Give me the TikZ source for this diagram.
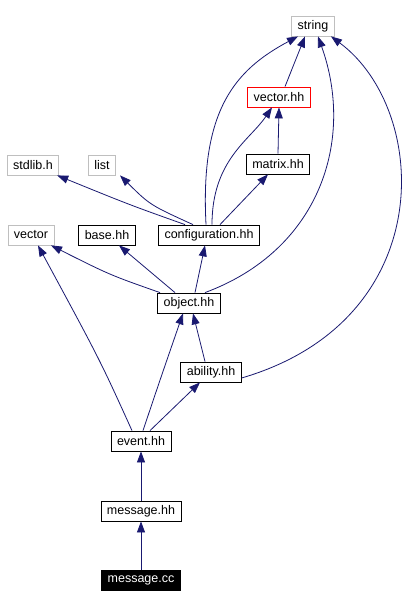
\documentclass[tikz,border=0pt]{standalone}
\usepackage{fontspec}
\setmainfont{Liberation Sans}
\usetikzlibrary{arrows.meta}
\definecolor{edgeblue}{RGB}{25,25,112}

\begin{document}
\begin{tikzpicture}[
    x=1pt, y=-1pt,
    filenode/.style={
        rectangle,
        draw=black,
        fill=white,
        line width=0.8pt,
        minimum height=20pt,
        inner xsep=6pt,
        inner ysep=0pt,
        font=\fontsize{12.5}{14}\selectfont
    },
    extnode/.style={
        filenode,
        draw=black!25
    },
    warnnode/.style={
        filenode,
        draw=red
    },
    rootnode/.style={
        filenode,
        fill=black,
        text=white
    },
    dep/.style={
        -{Triangle[length=11pt,width=8pt]},
        draw=edgeblue,
        line width=0.8pt
    }
]
    \useasboundingbox (0,0) rectangle (417,609);

    % Nodes
    \node[extnode]  (string)   at (313,26)  {string};
    \node[warnnode] (vectorhh) at (279,97)  {vector.hh};
    \node[filenode] (matrix)   at (278,164) {matrix.hh};
    \node[extnode]  (stdlib)   at (33,165)  {stdlib.h};
    \node[extnode]  (list)     at (102,165) {list};
    \node[extnode]  (vector)   at (31,235)  {vector};
    \node[filenode] (base)     at (107,235) {base.hh};
    \node[filenode] (config)   at (209,235) {configuration.hh};
    \node[filenode] (object)   at (189,303) {object.hh};
    \node[filenode] (ability)  at (211,372) {ability.hh};
    \node[filenode] (event)    at (141,441) {event.hh};
    \node[filenode] (message)  at (141,511) {message.hh};
    \node[rootnode] (messagecc) at (141,580) {message.cc};

    % vector.hh, matrix.hh
    \draw[dep] ([xshift=6pt]vectorhh.north) -- ([xshift=-8pt]string.south);
    \draw[dep] (matrix.north) -- (vectorhh.south);

    % configuration.hh
    \draw[dep] ([xshift=-24pt]config.north) .. controls (130,205) .. ([xshift=-2pt]stdlib.south east);
    \draw[dep] ([xshift=-16pt]config.north) .. controls (150,205) .. ([xshift=18pt]list.south);
    \draw[dep] ([xshift=-3pt]config.north) .. controls (200,110) and (235,70) .. ([xshift=-15pt]string.south);
    \draw[dep] ([xshift=3pt]config.north) .. controls (212,160) and (250,140) .. ([xshift=-7pt]vectorhh.south);
    \draw[dep] ([xshift=11pt]config.north) -- ([xshift=-10pt]matrix.south);

    % object.hh
    \draw[dep] ([xshift=-29pt]object.north) .. controls (110,275) .. ([xshift=20pt]vector.south);
    \draw[dep] ([xshift=-14pt]object.north) -- ([xshift=12pt]base.south);
    \draw[dep] ([xshift=6pt]object.north) -- ([xshift=-4pt]config.south);
    \draw[dep] ([xshift=16pt]object.north) .. controls (320,250) and (355,140) .. ([xshift=5pt]string.south);

    % ability.hh
    \draw[dep] ([xshift=-6pt]ability.north) -- ([xshift=4pt]object.south);
    \draw[dep] ([yshift=-6pt]ability.east) .. controls (440,320) and (430,110) .. ([xshift=18pt]string.south);

    % event.hh
    \draw[dep] ([xshift=-9pt]event.north) .. controls (100,360) .. ([xshift=7pt]vector.south);
    \draw[dep] ([xshift=2pt]event.north) .. controls (160,380) .. ([xshift=-6pt]object.south);
    \draw[dep] ([xshift=9pt]event.north) -- ([xshift=-11pt]ability.south);

    % message
    \draw[dep] (message.north) -- (event.south);
    \draw[dep] (messagecc.north) -- (message.south);

\end{tikzpicture}
\end{document}
